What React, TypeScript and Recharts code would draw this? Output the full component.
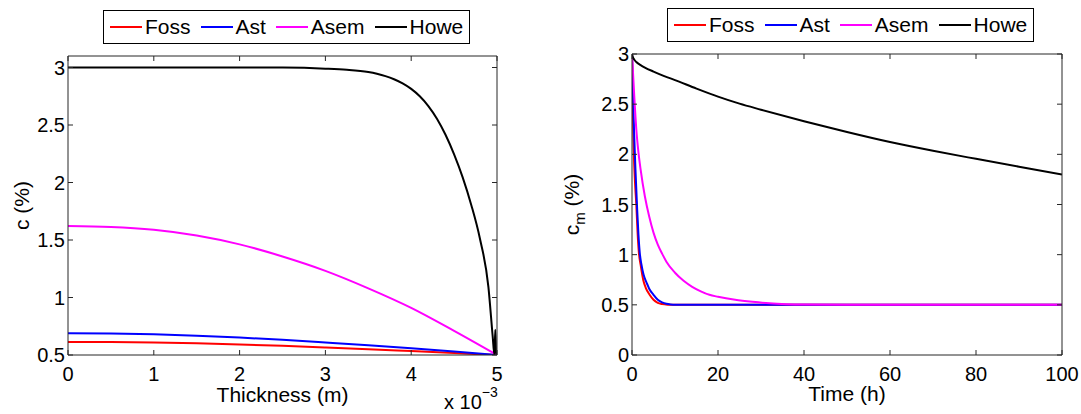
import React from 'react';
import { LineChart, Line, XAxis, YAxis, Legend } from 'recharts';

const FONT = '"Liberation Sans", Arial, Helvetica, sans-serif';

const seriesNames = ['Foss', 'Ast', 'Asem', 'Howe'];
const seriesColors = ['#ff0000', '#0000ff', '#ff00ff', '#000000'];

// left panel: profile through the thickness (x in units of 1e-3 m)
const thicknessGrid = [0, 0.5, 1, 1.5, 2, 2.5, 3, 3.5, 4, 4.5, 5];
const profileFoss = [0.614, 0.613, 0.609, 0.602, 0.592, 0.58, 0.566, 0.551, 0.534, 0.517, 0.5];
const profileAst = [0.689, 0.687, 0.68, 0.668, 0.652, 0.632, 0.609, 0.585, 0.558, 0.53, 0.5];
const profileAsem = [1.622, 1.614, 1.589, 1.539, 1.462, 1.357, 1.232, 1.08, 0.91, 0.71, 0.5];
const thicknessHowe = [0, 1, 2, 2.5, 3, 3.25, 3.5, 3.6, 3.7, 3.8, 3.9, 4, 4.1, 4.2, 4.3, 4.4, 4.5, 4.6, 4.7, 4.8, 4.9, 4.95, 4.97, 4.98, 4.99, 5];
const profileHowe = [3, 3, 3, 2.999, 2.99, 2.98, 2.96, 2.945, 2.925, 2.898, 2.862, 2.814, 2.75, 2.665, 2.555, 2.415, 2.245, 2.045, 1.805, 1.515, 1.09, 0.66, 0.5, 0.72, 0.5, 0.5];
const thicknessTicks = [0, 1, 2, 3, 4, 5];
const profileTicks = [0.5, 1, 1.5, 2, 2.5, 3];

// right panel: mean concentration over time (h)
const timeFoss = [0, 0.2, 0.4, 0.7, 1, 1.3, 1.6, 2, 2.6, 3.2, 4.1, 5, 6, 7, 8.3, 10, 100];
const meanFoss = [3, 2.45, 2.05, 1.72, 1.5, 1.22, 1.02, 0.9, 0.75, 0.67, 0.6, 0.55, 0.52, 0.508, 0.502, 0.5, 0.5];
const timeAst = [0, 0.25, 0.5, 0.8, 1.2, 1.5, 1.8, 2.2, 2.7, 3.2, 3.5, 4, 5, 6, 7, 8, 9, 10, 100];
const meanAst = [3, 2.55, 2.2, 1.85, 1.45, 1.2, 1.02, 0.9, 0.8, 0.74, 0.71, 0.66, 0.6, 0.55, 0.525, 0.51, 0.503, 0.5, 0.5];
const timeAsem = [0, 0.5, 1, 1.5, 2, 3, 4, 5, 6, 7, 8, 10, 12, 14, 16, 18, 20, 24, 28, 32, 36, 40, 50, 100];
const meanAsem = [3, 2.6, 2.25, 2.02, 1.85, 1.58, 1.38, 1.22, 1.1, 1.01, 0.93, 0.82, 0.74, 0.68, 0.635, 0.6, 0.58, 0.55, 0.53, 0.515, 0.507, 0.503, 0.5, 0.5];
const timeHowe = [0, 0.2, 0.5, 1, 2, 3, 5, 7.5, 10, 15, 20, 25, 30, 40, 50, 60, 70, 80, 90, 100];
const meanHowe = [3, 2.97, 2.945, 2.92, 2.89, 2.865, 2.825, 2.78, 2.74, 2.655, 2.575, 2.505, 2.445, 2.33, 2.222, 2.122, 2.035, 1.955, 1.877, 1.8];
const timeTicks = [0, 20, 40, 60, 80, 100];
const meanTicks = [0, 0.5, 1, 1.5, 2, 2.5, 3];

const toPoints = (xs: number[], ys: number[]) => xs.map((x, i) => ({ x, y: ys[i] }));

const leftSeries = [
  toPoints(thicknessGrid, profileFoss),
  toPoints(thicknessGrid, profileAst),
  toPoints(thicknessGrid, profileAsem),
  toPoints(thicknessHowe, profileHowe),
];
const rightSeries = [
  toPoints(timeFoss, meanFoss),
  toPoints(timeAst, meanAst),
  toPoints(timeAsem, meanAsem),
  toPoints(timeHowe, meanHowe),
];

const AXIS = '#262626';
const tickStyle = { fontSize: 20, fill: '#000', fontFamily: FONT };
const blank = () => '';

const LegendBox = () => (
  <div
    style={{
      display: 'inline-flex',
      alignItems: 'center',
      height: 34,
      boxSizing: 'border-box',
      border: '1px solid #000',
      background: '#fff',
      padding: '0 6px',
      fontFamily: FONT,
      fontSize: 21,
      color: '#000',
      whiteSpace: 'nowrap',
    }}
  >
    {seriesNames.map((n, i) => (
      <span key={n} style={{ display: 'inline-flex', alignItems: 'center', marginLeft: i ? 10 : 0 }}>
        <svg width={32} height={4} style={{ display: 'block' }}>
          <line x1={0} y1={2} x2={32} y2={2} stroke={seriesColors[i]} strokeWidth={2} />
        </svg>
        <span style={{ marginLeft: 3, lineHeight: '24px' }}>{n}</span>
      </span>
    ))}
  </div>
);

const leftYLabel = (props: any) => {
  const vb = props.viewBox || { x: 0, y: 56, width: 68, height: 299 };
  const cy = vb.y + vb.height / 2;
  const x = 29;
  return (
    <text x={x} y={cy} transform={`rotate(-90 ${x} ${cy})`} textAnchor="middle" fontSize={21} fontFamily={FONT} fill="#000">
      c (%)
    </text>
  );
};

const rightYLabel = (props: any) => {
  const vb = props.viewBox || { x: 0, y: 54, width: 92, height: 301 };
  const cy = vb.y + vb.height / 2;
  const x = 39;
  return (
    <text x={x} y={cy} transform={`rotate(-90 ${x} ${cy})`} textAnchor="middle" fontSize={21} fontFamily={FONT} fill="#000">
      <tspan>c</tspan>
      <tspan fontSize={15} dy={6}>m</tspan>
      <tspan dy={-6}> (%)</tspan>
    </text>
  );
};

const thicknessLabel = (props: any) => {
  const vb = props.viewBox || { x: 68, y: 355, width: 429, height: 50 };
  return (
    <g>
      <text x={vb.x + vb.width / 2} y={vb.y + 47} textAnchor="middle" fontSize={21} fontFamily={FONT} fill="#000">
        Thickness (m)
      </text>
      <text x={vb.x + vb.width - 53} y={vb.y + 54} fontSize={20} fontFamily={FONT} fill="#000">
        x 10<tspan dy={-12} fontSize={14}>−3</tspan>
      </text>
    </g>
  );
};

const timeLabel = (props: any) => {
  const vb = props.viewBox || { x: 92, y: 355, width: 430, height: 50 };
  return (
    <text x={vb.x + vb.width / 2} y={vb.y + 46} textAnchor="middle" fontSize={21} fontFamily={FONT} fill="#000">
      Time (h)
    </text>
  );
};

interface PanelProps {
  width: number;
  margin: { top: number; right: number; bottom: number; left: number };
  yWidth: number;
  xDomain: number[];
  xTicks: number[];
  yDomain: number[];
  yTicks: number[];
  series: { x: number; y: number }[][];
  xLabel: (p: any) => React.ReactNode;
  yLabel: (p: any) => React.ReactNode;
  legendLeft: number;
  legendTop: number;
}

const Panel: React.FC<PanelProps> = (p) => (
  <LineChart width={p.width} height={414} margin={p.margin}>
    <XAxis
      type="number"
      dataKey="x"
      domain={p.xDomain}
      ticks={p.xTicks}
      allowDataOverflow
      height={50}
      tickSize={-5}
      tickMargin={17}
      tick={tickStyle}
      stroke={AXIS}
      label={{ content: p.xLabel }}
    />
    <XAxis
      xAxisId="top"
      orientation="top"
      type="number"
      dataKey="x"
      domain={p.xDomain}
      ticks={p.xTicks}
      allowDataOverflow
      height={10}
      tickSize={-5}
      tickFormatter={blank}
      stroke={AXIS}
    />
    <YAxis
      type="number"
      domain={p.yDomain}
      ticks={p.yTicks}
      allowDataOverflow
      width={p.yWidth}
      tickSize={-5}
      tickMargin={8}
      tick={tickStyle}
      stroke={AXIS}
      label={{ content: p.yLabel }}
    />
    <YAxis
      yAxisId="right"
      orientation="right"
      type="number"
      domain={p.yDomain}
      ticks={p.yTicks}
      allowDataOverflow
      width={10}
      tickSize={-5}
      tickFormatter={blank}
      stroke={AXIS}
    />
    <Legend
      content={<LegendBox />}
      layout="horizontal"
      verticalAlign="middle"
      align="center"
      wrapperStyle={{ left: p.legendLeft, top: p.legendTop, width: 'auto', height: 'auto' }}
    />
    {p.series.map((data, i) => (
      <Line
        key={seriesNames[i]}
        data={data}
        dataKey="y"
        name={seriesNames[i]}
        type="monotone"
        stroke={seriesColors[i]}
        strokeWidth={2}
        dot={false}
        activeDot={false}
        isAnimationActive={false}
      />
    ))}
  </LineChart>
);

export default function App() {
  return (
    <div style={{ position: 'absolute', left: 0, top: 0, width: 1081, height: 414, background: '#fff' }}>
      <div style={{ position: 'absolute', left: 0, top: 0 }}>
        <Panel
          width={540}
          margin={{ top: 46, right: 33, bottom: 9, left: 0 }}
          yWidth={68}
          xDomain={[0, 5]}
          xTicks={thicknessTicks}
          yDomain={[0.5, 3.1]}
          yTicks={profileTicks}
          series={leftSeries}
          xLabel={thicknessLabel}
          yLabel={leftYLabel}
          legendLeft={103}
          legendTop={10}
        />
      </div>
      <div style={{ position: 'absolute', left: 540, top: 0 }}>
        <Panel
          width={541}
          margin={{ top: 44, right: 9, bottom: 9, left: 0 }}
          yWidth={92}
          xDomain={[0, 100]}
          xTicks={timeTicks}
          yDomain={[0, 3]}
          yTicks={meanTicks}
          series={rightSeries}
          xLabel={timeLabel}
          yLabel={rightYLabel}
          legendLeft={127}
          legendTop={8}
        />
      </div>
    </div>
  );
}
